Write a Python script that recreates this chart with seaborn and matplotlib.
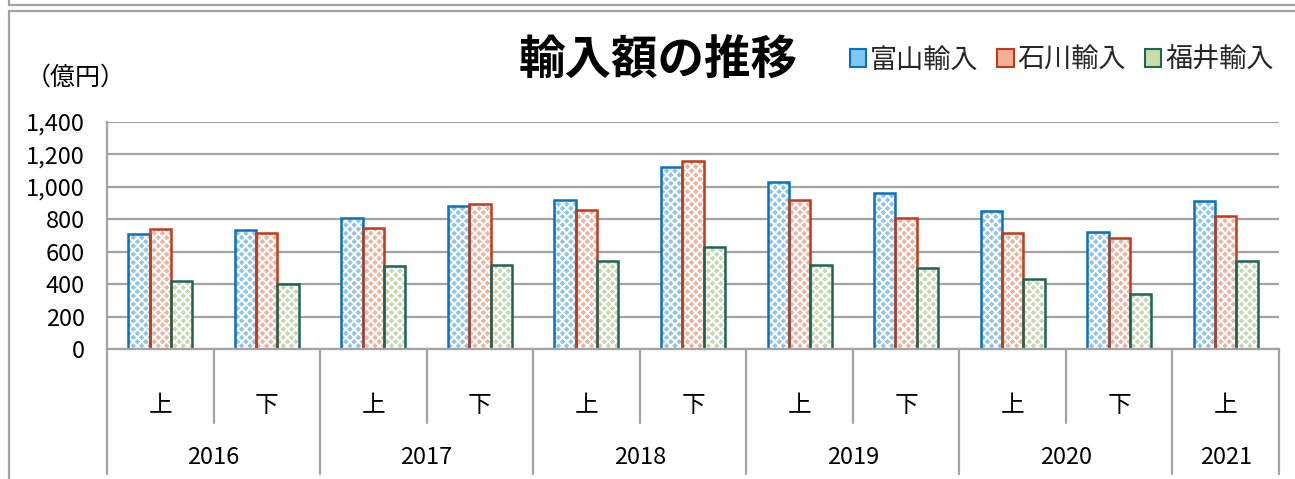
import matplotlib
matplotlib.use("Agg")
import matplotlib.pyplot as plt
from matplotlib.lines import Line2D
from matplotlib.patches import Patch
from matplotlib.ticker import FuncFormatter
import matplotlib.transforms as mtransforms
import numpy as np
import pandas as pd
import seaborn as sns

# ---- data ----
years = ["2016", "2016", "2017", "2017", "2018", "2018", "2019", "2019", "2020", "2020", "2021"]
halves = ["上", "下", "上", "下", "上", "下", "上", "下", "上", "下", "上"]
series_names = ["富山輸入", "石川輸入", "福井輸入"]
toyama = [711, 733, 806, 884, 919, 1122, 1031, 962, 853, 724, 911]
ishikawa = [740, 716, 746, 894, 858, 1160, 918, 808, 714, 685, 819]
fukui = [420, 399, 513, 518, 543, 628, 516, 500, 434, 337, 543]
year_labels = ["2016", "2017", "2018", "2019", "2020", "2021"]
title_text = "輸入額の推移"
unit_text = "（億円）"

categories = [f"{y}{h}" for y, h in zip(years, halves)]
df = pd.DataFrame({
    "cat": categories * 3,
    "series": np.repeat(series_names, len(categories)),
    "value": toyama + ishikawa + fukui,
})

face_colors = ["#80C8F7", "#FAAD96", "#C8DDAA"]
edge_colors = ["#0A70C0", "#C23B16", "#1D6656"]
grid_gray = "#A3A3A3"

sns.set_theme(style="white")
plt.rcParams["font.family"] = ["Noto Sans CJK JP", "DejaVu Sans"]
plt.rcParams["hatch.linewidth"] = 1.4

W, H = 1295, 479
fig = plt.figure(figsize=(W / 100, H / 100), dpi=100)
ax = fig.add_axes([107 / W, 1 - 349 / H, (1279 - 107) / W, (349 - 122) / H])

# hatched fill layer
sns.barplot(data=df, x="cat", y="value", hue="series", hue_order=series_names,
            order=categories, palette=face_colors, width=0.6, gap=0,
            errorbar=None, legend=False, edgecolor="white", linewidth=0, ax=ax)
for p in ax.patches:
    p.set_hatch("xxxx")
# outline layer
sns.barplot(data=df, x="cat", y="value", hue="series", hue_order=series_names,
            order=categories, palette=edge_colors, width=0.6, gap=0,
            errorbar=None, legend=False, fill=False, linewidth=1.8, ax=ax)

ax.set_ylim(0, 1400)
ax.set_xlim(-0.5, len(categories) - 0.5)
ax.set_yticks(np.arange(0, 1401, 200))
ax.yaxis.set_major_formatter(FuncFormatter(lambda v, p: f"{int(v):,}"))
ax.tick_params(axis="y", length=0, pad=16, labelsize=17, labelcolor="black")
ax.set_xticks([])
ax.set_xlabel("")
ax.set_ylabel("")
ax.grid(axis="y", color=grid_gray, linewidth=1.6)
ax.set_axisbelow(True)
for s in ["top", "right"]:
    ax.spines[s].set_visible(False)
for s in ["left", "bottom"]:
    ax.spines[s].set_color(grid_gray)
    ax.spines[s].set_linewidth(1.6)
ax.spines["bottom"].set_zorder(5)

# hierarchical x axis
trans = mtransforms.blended_transform_factory(ax.transData, ax.transAxes)
inner_bottom = -(423 - 349) / 227
outer_bottom = -(474 - 349) / 227
year_bounds = [-0.5]
for i in range(1, len(years)):
    if years[i] != years[i - 1]:
        year_bounds.append(i - 0.5)
year_bounds.append(len(years) - 0.5)
for i in range(len(categories) + 1):
    xb = i - 0.5
    yb = outer_bottom if xb in year_bounds else inner_bottom
    ax.add_line(Line2D([xb, xb], [0, yb], transform=trans, color=grid_gray,
                       linewidth=1.6, clip_on=False))
for i, h in enumerate(halves):
    ax.text(i, -(406 - 349) / 227, h, transform=trans, ha="center", va="center",
            fontsize=17, color="black")
for k, yl in enumerate(year_labels):
    xs = [i for i, y in enumerate(years) if y == yl]
    ax.text(np.mean(xs), -(458 - 349) / 227, yl, transform=trans, ha="center",
            va="center", fontsize=17, color="black")

# titles
fig.text(658 / W, 1 - 61 / H, title_text, ha="center", va="center",
         fontsize=33.5, fontweight="bold", color="black")
fig.text(26 / W, 1 - 78 / H, unit_text, ha="left", va="center",
         fontsize=18, color="black")

# legend
handles = [Patch(facecolor=fc, edgecolor=ec, linewidth=1.5)
           for fc, ec in zip(face_colors, edge_colors)]
fig.legend(handles, series_names, loc="center right",
           bbox_to_anchor=(1274 / W, 1 - 60 / H), ncol=3, frameon=False,
           fontsize=19.5, handlelength=0.6, handleheight=0.6,
           handletextpad=0.15, columnspacing=0.7, borderaxespad=0, borderpad=0)

# outer frame lines
for yy in (5, 11):
    fig.add_artist(Line2D([9 / W, 1], [1 - yy / H, 1 - yy / H], color=grid_gray,
                          linewidth=1.6, transform=fig.transFigure))
fig.add_artist(Line2D([9 / W, 9 / W], [1, 1 - 5 / H], color=grid_gray,
                      linewidth=1.6, transform=fig.transFigure))
fig.add_artist(Line2D([9 / W, 9 / W], [1 - 11 / H, 0], color=grid_gray,
                      linewidth=1.6, transform=fig.transFigure))

fig.savefig("out.png", dpi=100, facecolor="white")
